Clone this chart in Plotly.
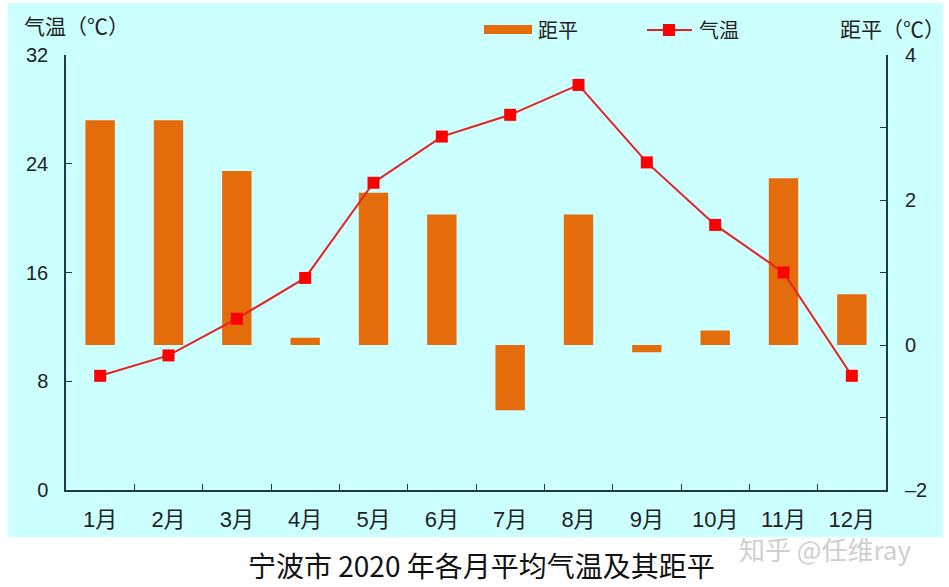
import plotly.graph_objects as go

months = ["1月", "2月", "3月", "4月", "5月", "6月", "7月", "8月", "9月", "10月", "11月", "12月"]
temperature = [8.4, 9.9, 12.6, 15.6, 22.6, 26.0, 27.6, 29.8, 24.1, 19.5, 16.0, 8.4]
anomaly = [3.1, 3.1, 2.4, 0.1, 2.1, 1.8, -0.9, 1.8, -0.1, 0.2, 2.3, 0.7]

temp_ticks = [0, 8, 16, 24, 32]
anom_ticks = [-2, 0, 2, 4]
anom_labels = ["\u20132", "0", "2", "4"]

W, H = 949, 587
L, R, T, B = 66, 63, 55, 97
PW, PH = W - L - R, H - T - B

def px(x):
    return (x - L) / PW

def py(y):
    return (H - B - y) / PH

BAR = "#E46C0A"
LINE = "#E8201E"
MARK = "#FF0000"
BG = "#CCFFFF"
AX = "#1E3A48"
FONT = "Liberation Sans, Noto Sans CJK SC, sans-serif"
CJK = "Noto Sans CJK SC, sans-serif"

fig = go.Figure()
fig.add_trace(go.Bar(x=months, y=anomaly, yaxis="y", marker=dict(color=BAR, line=dict(width=0)),
                     name="距平", showlegend=False))
fig.add_trace(go.Scatter(x=months, y=temperature, yaxis="y2", mode="lines+markers",
                         line=dict(color=LINE, width=2),
                         marker=dict(symbol="square", size=12, color=MARK),
                         name="气温", showlegend=False))

shapes = [
    dict(type="rect", xref="paper", yref="paper", x0=px(8), x1=px(943), y0=py(537), y1=py(3),
         fillcolor=BG, line=dict(width=0), layer="below"),
    # legend swatches
    dict(type="rect", xref="paper", yref="paper", x0=px(484), x1=px(532), y0=py(34), y1=py(25),
         fillcolor=BAR, line=dict(width=0)),
    dict(type="line", xref="paper", yref="paper", x0=px(647), x1=px(692), y0=py(30), y1=py(30),
         line=dict(color=LINE, width=2)),
    dict(type="rect", xref="paper", yref="paper", x0=px(663), x1=px(675), y0=py(36), y1=py(24),
         fillcolor=MARK, line=dict(width=0)),
]

annotations = [
    dict(text="气温（℃）", xref="paper", yref="paper", x=px(22), y=py(25), xanchor="left", yanchor="middle",
         showarrow=False, font=dict(family=CJK, size=21, color="#222")),
    dict(text="距平（℃）", xref="paper", yref="paper", x=px(838), y=py(28), xanchor="left", yanchor="middle",
         showarrow=False, font=dict(family=CJK, size=21, color="#222")),
    dict(text="距平", xref="paper", yref="paper", x=px(536), y=py(30), xanchor="left", yanchor="middle",
         showarrow=False, font=dict(family=CJK, size=20, color="#222")),
    dict(text="气温", xref="paper", yref="paper", x=px(697), y=py(30), xanchor="left", yanchor="middle",
         showarrow=False, font=dict(family=CJK, size=20, color="#222")),
    dict(text="宁波市 2020 年各月平均气温及其距平", xref="paper", yref="paper", x=px(481), y=py(587),
         xanchor="center", yanchor="bottom", showarrow=False, font=dict(family=CJK, size=28, color="#111")),
    dict(text="知乎 @任维ray", xref="paper", yref="paper", x=px(737), y=py(548),
         xanchor="left", yanchor="middle", showarrow=False, font=dict(family=CJK, size=26, color="#CFCFCF")),
]
for v, t in zip(anom_ticks, anom_labels):
    annotations.append(dict(text=t, xref="paper", yref="y", x=px(903), y=v, xanchor="left",
                            yanchor="middle", showarrow=False,
                            font=dict(family=FONT, size=20, color="#222")))

fig.update_layout(
    width=W, height=H,
    margin=dict(l=L, r=R, t=T, b=B, pad=0),
    paper_bgcolor="white",
    plot_bgcolor="rgba(0,0,0,0)",
    bargap=0.57,
    showlegend=False,
    font=dict(family=FONT, size=19, color="#222"),
    xaxis=dict(type="category", range=[-0.5, 11.5], tickson="boundaries", ticks="inside", ticklen=6,
               tickcolor=AX, showline=True, linecolor=AX, linewidth=1.5, showgrid=False, zeroline=False,
               ticklabelstandoff=9, tickfont=dict(family=FONT, size=22)),
    yaxis=dict(side="right", range=[-2, 4], tickvals=anom_ticks, showticklabels=False,
               ticks="inside", ticklen=6, tickcolor=AX, showline=True, linecolor=AX, linewidth=1.5,
               minor=dict(dtick=1, ticks="inside", ticklen=6, tickcolor=AX, showgrid=False),
               showgrid=False, zeroline=False),
    yaxis2=dict(side="left", overlaying="y", range=[0, 32], tickvals=temp_ticks,
                ticks="inside", ticklen=6, tickcolor=AX, showline=True, linecolor=AX, linewidth=1.5,
                showgrid=False, zeroline=False, ticklabelstandoff=12, tickfont=dict(family=FONT, size=20)),
    shapes=shapes,
    annotations=annotations,
)

fig.write_html("out.html")
